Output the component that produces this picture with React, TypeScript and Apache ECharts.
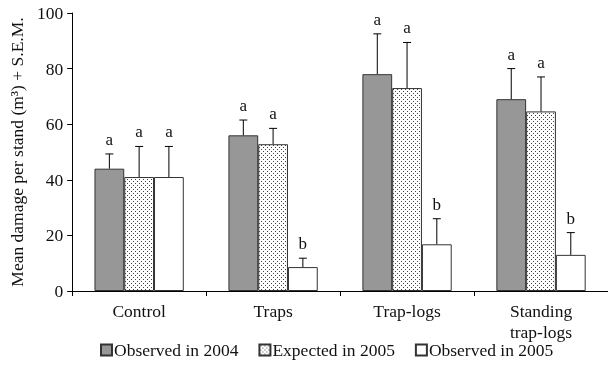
import React, { useEffect, useRef } from "react";
import * as echarts from "echarts";

const categories = ["Control", "Traps", "Trap-logs", "Standing\ntrap-logs"];
const seriesNames = ["Observed in 2004", "Expected in 2005", "Observed in 2005"];
const observed2004 = [44, 56, 78, 69];
const observed2004Sem = [5.3, 5.5, 14.5, 11];
const expected2005 = [41, 52.8, 73, 64.6];
const expected2005Sem = [11, 5.7, 16.4, 12.4];
const observed2005 = [41, 8.6, 16.8, 13];
const observed2005Sem = [11, 3.2, 9.2, 8];
const letters2004 = ["a", "a", "a", "a"];
const lettersExp2005 = ["a", "a", "a", "a"];
const lettersObs2005 = ["a", "b", "b", "b"];
const yTicks = { min: 0, max: 100, interval: 20 };

const FONT = '"Liberation Serif", "DejaVu Serif", serif';

function makeDots(): HTMLCanvasElement {
  const c = document.createElement("canvas");
  c.width = 4;
  c.height = 4;
  const ctx = c.getContext("2d")!;
  ctx.fillStyle = "#ffffff";
  ctx.fillRect(0, 0, 4, 4);
  ctx.fillStyle = "#444444";
  ctx.fillRect(1, 1, 1, 1);
  ctx.fillRect(3, 3, 1, 1);
  return c;
}

export default function App() {
  const ref = useRef<HTMLDivElement>(null);
  useEffect(() => {
    if (!ref.current) return;
    const chart = echarts.init(ref.current, undefined, { renderer: "svg" });
    const means = [observed2004, expected2005, observed2005];
    const sems = [observed2004Sem, expected2005Sem, observed2005Sem];
    const letters = [letters2004, lettersExp2005, lettersObs2005];
    const errData: number[][] = [];
    const errLetters: string[] = [];
    for (let s = 0; s < 3; s++) {
      for (let c = 0; c < categories.length; c++) {
        errData.push([c, s, means[s][c], means[s][c] + sems[s][c]]);
        errLetters.push(letters[s][c]);
      }
    }
    const dots = makeDots();
    const fills: any[] = ["#979797", { image: dots, repeat: "repeat" }, "#ffffff"];
    const barGapRatio = 0.3333;
    const option: any = {
      animation: false,
      grid: { left: 72, top: 13, width: 540, height: 278 },
      legend: {
        top: 341,
        left: 100,
        padding: 0,
        itemWidth: 11,
        itemHeight: 11,
        itemGap: 20,
        icon: "rect",
        textStyle: { fontFamily: FONT, fontSize: 17.5, color: "#111", padding: [0, 0, 0, -3] },
        data: seriesNames,
      },
      xAxis: {
        type: "category",
        data: categories,
        axisLine: { lineStyle: { color: "#000", width: 1 } },
        axisTick: { show: true, length: 5, lineStyle: { color: "#000" } },
        axisLabel: { fontFamily: FONT, fontSize: 17.5, color: "#111", margin: 9, lineHeight: 21 },
      },
      yAxis: {
        type: "value",
        min: yTicks.min,
        max: yTicks.max,
        interval: yTicks.interval,
        name: "Mean damage per stand (m³) + S.E.M.",
        nameLocation: "middle",
        nameRotate: 90,
        nameGap: 42,
        nameTextStyle: { fontFamily: FONT, fontSize: 17.5, color: "#111" },
        axisLine: { show: true, lineStyle: { color: "#000", width: 1 } },
        axisTick: { show: true, length: 5, lineStyle: { color: "#000" } },
        splitLine: { show: false },
        axisLabel: { fontFamily: FONT, fontSize: 17.5, color: "#111", margin: 9 },
      },
      series: [
        ...seriesNames.map((name, i) => ({
          name,
          type: "bar",
          data: means[i],
          barGap: "0%",
          barCategoryGap: "33.33%",
          itemStyle: { color: fills[i], borderColor: "#333", borderWidth: 1 },
          emphasis: { disabled: true },
        })),
        {
          type: "custom",
          data: errData,
          z: 10,
          silent: true,
          renderItem: (params: any, api: any) => {
            const cat = api.value(0);
            const s = api.value(1);
            const base = api.coord([cat, api.value(2)]);
            const top = api.coord([cat, api.value(3)]);
            const band = api.size([1, 0])[0];
            const bw = (band * (1 - barGapRatio)) / 3;
            const x = base[0] + (s - 1) * bw;
            const stroke = { stroke: "#000", lineWidth: 1 };
            return {
              type: "group",
              children: [
                { type: "line", shape: { x1: x, y1: base[1], x2: x, y2: top[1] }, style: stroke },
                { type: "line", shape: { x1: x - 4, y1: top[1], x2: x + 4, y2: top[1] }, style: stroke },
                {
                  type: "text",
                  style: {
                    text: errLetters[params.dataIndex],
                    x,
                    y: top[1] - 6,
                    align: "center",
                    verticalAlign: "bottom",
                    font: `17px ${FONT}`,
                    fill: "#111",
                  },
                },
              ],
            };
          },
        },
      ],
    };
    chart.setOption(option);
    return () => chart.dispose();
  }, []);
  return <div ref={ref} style={{ position: "fixed", left: 0, top: 0, width: 608, height: 366 }} />;
}
